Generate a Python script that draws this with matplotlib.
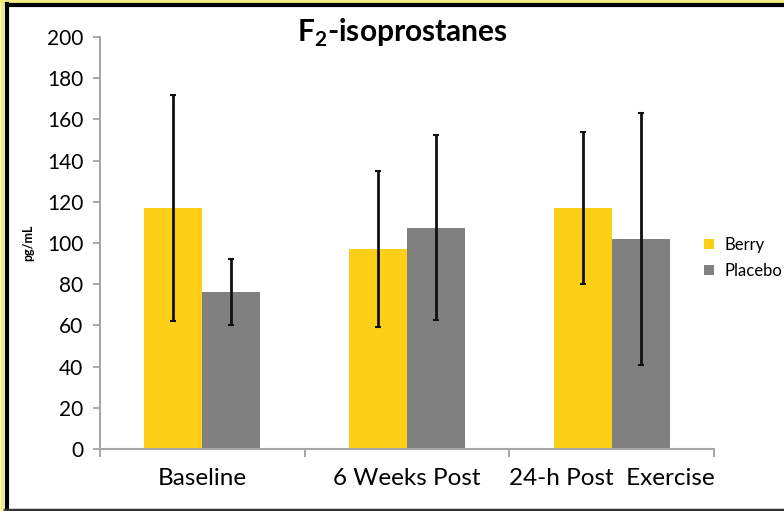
import matplotlib
matplotlib.use("Agg")
import matplotlib.pyplot as plt
import numpy as np
from matplotlib.lines import Line2D

categories = ["Baseline", "6 Weeks Post", "24-h Post  Exercise"]
berry = [117, 97, 117]
berry_err = [55, 38, 37]
placebo = [76, 107.5, 102]
placebo_err = [16, 45, 61]
yticks = list(range(0, 201, 20))

plt.rcParams['font.family'] = ['Lato', 'DejaVu Sans']
plt.rcParams['mathtext.fontset'] = 'custom'
plt.rcParams['mathtext.rm'] = 'Lato'
plt.rcParams['mathtext.bf'] = 'Lato:bold'

W, H = 784, 511
fig = plt.figure(figsize=(W/100, H/100), dpi=100)
ax = fig.add_axes([100/W, (H-449)/H, 614/W, 412/H])

x = np.arange(len(categories))
bw = 0.283
ekw = dict(ecolor='#111111', elinewidth=2, capsize=2, capthick=1.5)
ax.bar(x - bw/2, berry, bw, yerr=berry_err, color='#FDD017', label='Berry', error_kw=ekw, zorder=2)
ax.bar(x + bw/2, placebo, bw, yerr=placebo_err, color='#808080', label='Placebo', error_kw=ekw, zorder=2)

ax.set_xlim(-0.5, len(categories) - 0.5)
ax.set_ylim(0, 200)
ax.set_yticks(yticks)
ax.set_yticklabels([str(v) for v in yticks], fontsize=15)
ax.set_xticks(x)
ax.set_xticklabels(categories, fontsize=17.5)
ax.tick_params(axis='x', length=0, pad=14)
ax.set_xticks(np.arange(-0.5, len(categories)), minor=True)
ax.tick_params(axis='x', which='minor', length=6, color='#999999', width=1.2)
ax.tick_params(axis='y', length=5, color='#999999', width=1.2, pad=7)
for s in ['top', 'right']:
    ax.spines[s].set_visible(False)
for s in ['left', 'bottom']:
    ax.spines[s].set_color('#a6a6a6')
    ax.spines[s].set_linewidth(1.5)

ax.set_ylabel('pg/mL', fontsize=9, fontweight='bold', labelpad=9)

fig.text(402/W, 1 - 33/H, r'F$_\mathbf{2}$-isoprostanes', fontsize=21.5, ha='center', va='center',
         fontweight='bold')

leg = ax.legend(loc='center left', bbox_to_anchor=(704/W, 1 - 258/H), bbox_transform=fig.transFigure,
                frameon=False, fontsize=12, handlelength=0.6, handleheight=0.6,
                handletextpad=0.6, labelspacing=0.6, borderaxespad=0, borderpad=0)

# frame around the figure
fig.add_artist(Line2D([0, 1], [1 - 1/H, 1 - 1/H], transform=fig.transFigure, color='#f3ec7a', lw=2))
fig.add_artist(Line2D([1.5/W, 1.5/W], [0, 1], transform=fig.transFigure, color='#f3ec7a', lw=2.5))
fig.add_artist(Line2D([7/W, 1], [1 - 5.5/H, 1 - 5.5/H], transform=fig.transFigure, color='black', lw=3))
fig.add_artist(Line2D([7/W, 7/W], [1.5/H, 1 - 4/H], transform=fig.transFigure, color='black', lw=3))
fig.add_artist(Line2D([5/W, 1], [1.5/H, 1.5/H], transform=fig.transFigure, color='#333333', lw=2.5))

fig.savefig('out.png', dpi=100)
